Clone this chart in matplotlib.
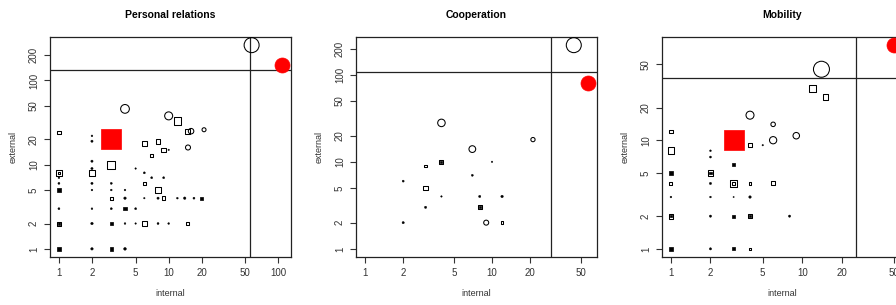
import matplotlib

matplotlib.use("Agg")
import matplotlib.pyplot as plt
import numpy as np

plt.rcParams["font.family"] = ["Liberation Sans", "DejaVu Sans"]

# shape codes: s = open square, o = open circle, f = filled square, . = dot,
# R = red square, C = red circle ; w = relative symbol size (cex)
TITLES = ["Personal relations", "Cooperation", "Mobility"]
AXIS_MIN = 1  # all panels start their axes at 1

P1_X = [1, 1, 1, 1, 1, 1, 1, 1, 1, 1,
        2, 2, 2, 2, 2, 2, 2, 2, 2, 2,
        3, 3, 3, 3, 3, 3, 3, 3,
        4, 4, 4, 4, 4, 4, 5, 5, 5,
        6, 6, 6, 6, 6, 7, 7, 8, 8, 8, 8, 9, 9, 9,
        10, 10, 10, 12, 12, 14, 15, 16, 15, 15, 17, 20, 21, 57, 108]
P1_Y = [24, 8, 8, 7, 6, 5, 3, 2, 2, 1,
        22, 19, 11, 9, 8, 6, 5, 3, 2, 1,
        20, 10, 6, 5, 4, 3, 2, 1,
        46, 5, 4, 3, 2, 1, 9, 3, 2,
        18, 8, 6, 4, 2, 13, 7, 19, 5, 4, 2, 15, 7, 4,
        38, 15, 2, 33, 4, 4, 25, 25, 16, 2, 4, 4, 26, 263, 153]
P1_SHAPE = ["s", "s", "s", ".", ".", "f", ".", "s", "f", "f",
            ".", ".", ".", ".", "s", ".", ".", ".", ".", ".",
            "R", "s", ".", ".", "s", ".", "f", "f",
            "o", ".", ".", "f", ".", ".", ".", ".", ".",
            "s", ".", "s", ".", "s", "s", ".", "s", "s", ".", ".", "s", ".", "s",
            "o", ".", ".", "s", ".", ".", "s", "o", "o", "s", ".", "f", "o", "o", "C"]
P1_W = [0.7, 1.3, 0.5, 0.35, 0.4, 0.7, 0.4, 0.8, 0.5, 0.9,
        0.35, 0.45, 0.45, 0.45, 1.3, 0.45, 0.35, 0.35, 0.5, 0.5,
        4.0, 1.6, 0.4, 0.35, 0.6, 0.4, 0.6, 0.7,
        1.75, 0.35, 0.5, 0.7, 0.35, 0.55, 0.3, 0.4, 0.3,
        0.95, 0.4, 0.7, 0.3, 0.95, 0.6, 0.4, 0.95, 1.05, 0.45, 0.4, 0.9, 0.4, 0.7,
        1.6, 0.3, 0.35, 1.5, 0.35, 0.5, 1.0, 1.1, 1.0, 0.6, 0.4, 0.6, 0.8, 3.0, 3.0]
P1_VLINE, P1_HLINE = 54.7, 132
P1_XTICKS = [1, 2, 5, 10, 20, 50, 100]
P1_YTICKS = [1, 2, 5, 10, 20, 50, 100, 200]

P2_X = [44, 57, 4, 7, 21, 3, 4, 4, 10, 2, 7, 3, 4, 8, 12, 3, 8, 8, 2, 9, 12]
P2_Y = [219, 80, 28, 14, 18, 9, 10, 10, 10, 6, 7, 5, 4, 4, 4, 3, 3, 3, 2, 2, 2]
P2_SHAPE = ["o", "C", "o", "o", "o", "s", "s", "f", ".", ".", ".", "s",
            ".", ".", ".", ".", "s", "f", ".", "o", "s"]
P2_W = [3.0, 3.0, 1.5, 1.35, 0.85, 0.5, 0.8, 0.4, 0.3, 0.4, 0.4, 0.95,
        0.3, 0.45, 0.5, 0.45, 0.8, 0.45, 0.45, 1.0, 0.55]
P2_VLINE, P2_HLINE = 28.9, 108
P2_XTICKS = [1, 2, 5, 10, 20, 50]
P2_YTICKS = [1, 2, 5, 10, 20, 50, 100, 200]

P3_X = [14, 12, 15, 4, 6, 6, 9, 1, 1, 3, 4, 5, 2, 2, 3, 1, 2, 2,
        1, 2, 3, 3, 4, 6, 1, 2, 3, 4, 1, 1, 2, 3, 4, 4, 8,
        1, 2, 3, 4, 50]
P3_Y = [45, 30, 25, 17, 14, 10, 11, 12, 8, 10, 9, 9, 8, 7, 6, 5, 5, 5,
        4, 4, 4, 4, 4, 4, 3, 3, 3, 3, 2, 2, 2, 2, 2, 2, 2,
        1, 1, 1, 1, 75]
P3_SHAPE = ["o", "s", "s", "o", "o", "o", "o", "s", "s", "R", "s", ".", ".", ".", "f", "f", "s", "f",
            "s", ".", "s", "s", "s", "s", ".", ".", ".", ".", "s", "f", ".", "f", "s", "f", ".",
            "f", ".", "f", "s", "C"]
P3_W = [3.2, 1.4, 1.1, 1.6, 0.9, 1.45, 1.3, 0.7, 1.3, 4.0, 0.8, 0.3, 0.35, 0.4, 0.6, 0.7, 1.1, 0.55,
        0.6, 0.45, 1.4, 0.5, 0.55, 0.8, 0.35, 0.35, 0.25, 0.5, 0.95, 0.5, 0.45, 0.65, 0.9, 0.5, 0.45,
        0.8, 0.45, 0.65, 0.5, 3.0]
P3_VLINE, P3_HLINE = 25.5, 37.5
P3_XTICKS = [1, 2, 5, 10, 20, 50]
P3_YTICKS = [1, 2, 5, 10, 20, 50]

PANELS = [
    (P1_X, P1_Y, P1_SHAPE, P1_W, P1_VLINE, P1_HLINE, P1_XTICKS, P1_YTICKS),
    (P2_X, P2_Y, P2_SHAPE, P2_W, P2_VLINE, P2_HLINE, P2_XTICKS, P2_YTICKS),
    (P3_X, P3_Y, P3_SHAPE, P3_W, P3_VLINE, P3_HLINE, P3_XTICKS, P3_YTICKS),
]

W, H = 896, 305
PT = 72 / 100  # points per pixel at dpi 100
STYLE = {
    "s": dict(marker="s", facecolors="none", edgecolors="black", linewidths=0.75),
    "o": dict(marker="o", facecolors="none", edgecolors="black", linewidths=0.75),
    "f": dict(marker="s", facecolors="black", edgecolors="black", linewidths=0.5),
    ".": dict(marker="o", facecolors="black", edgecolors="black", linewidths=0.3),
    "R": dict(marker="s", facecolors="red", edgecolors="red", linewidths=0.5),
    "C": dict(marker="o", facecolors="red", edgecolors="red", linewidths=0.5),
}


def r_lim(v):
    """R-style 4% expansion of the range in log space."""
    lo, hi = np.log10(min(min(v), AXIS_MIN)), np.log10(max(v))
    pad = 0.04 * (hi - lo)
    return 10 ** (lo - pad), 10 ** (hi + pad)


fig = plt.figure(figsize=(W / 100, H / 100), dpi=100)
for i, (xs, ys, shp, ws, vl, hl, xt, yt) in enumerate(PANELS):
    left = 50 + 306 * i
    ax = fig.add_axes([left / W, (H - 257) / H, 241 / W, 220 / H])
    ax.set_xscale("log")
    ax.set_yscale("log")
    ax.set_xlim(*r_lim(xs))
    ax.set_ylim(*r_lim(ys))
    ax.axvline(vl, color="#222222", lw=0.9, zorder=1)
    ax.axhline(hl, color="#222222", lw=0.9, zorder=1)
    xs, ys, ws, shp = np.array(xs), np.array(ys), np.array(ws), np.array(shp)
    for code, st in STYLE.items():
        m = shp == code
        if m.any():
            ax.scatter(xs[m], ys[m], s=(5 * ws[m] * PT) ** 2, zorder=3, clip_on=False, **st)
    ax.set_xticks(xt)
    ax.set_xticklabels([str(t) for t in xt])
    ax.set_yticks(yt)
    ax.set_yticklabels([str(t) for t in yt], rotation=90, va="center")
    ax.minorticks_off()
    ax.tick_params(length=4, width=0.8, labelsize=7, pad=4, colors="#333333")
    for sp in ax.spines.values():
        sp.set_linewidth(0.9)
        sp.set_color("#222222")
    ax.set_xlabel("internal", fontsize=6.5, color="#333333", va="center")
    ax.xaxis.set_label_coords(0.5, -36 / 220)
    ax.set_ylabel("external", fontsize=6.5, color="#333333", va="center")
    ax.yaxis.set_label_coords(-37 / 241, 0.5)
    ax.text(0.5, 1 + 22 / 220, TITLES[i], transform=ax.transAxes, ha="center",
            va="center", fontsize=7.5, fontweight="bold")

fig.savefig("out.png", dpi=100)
